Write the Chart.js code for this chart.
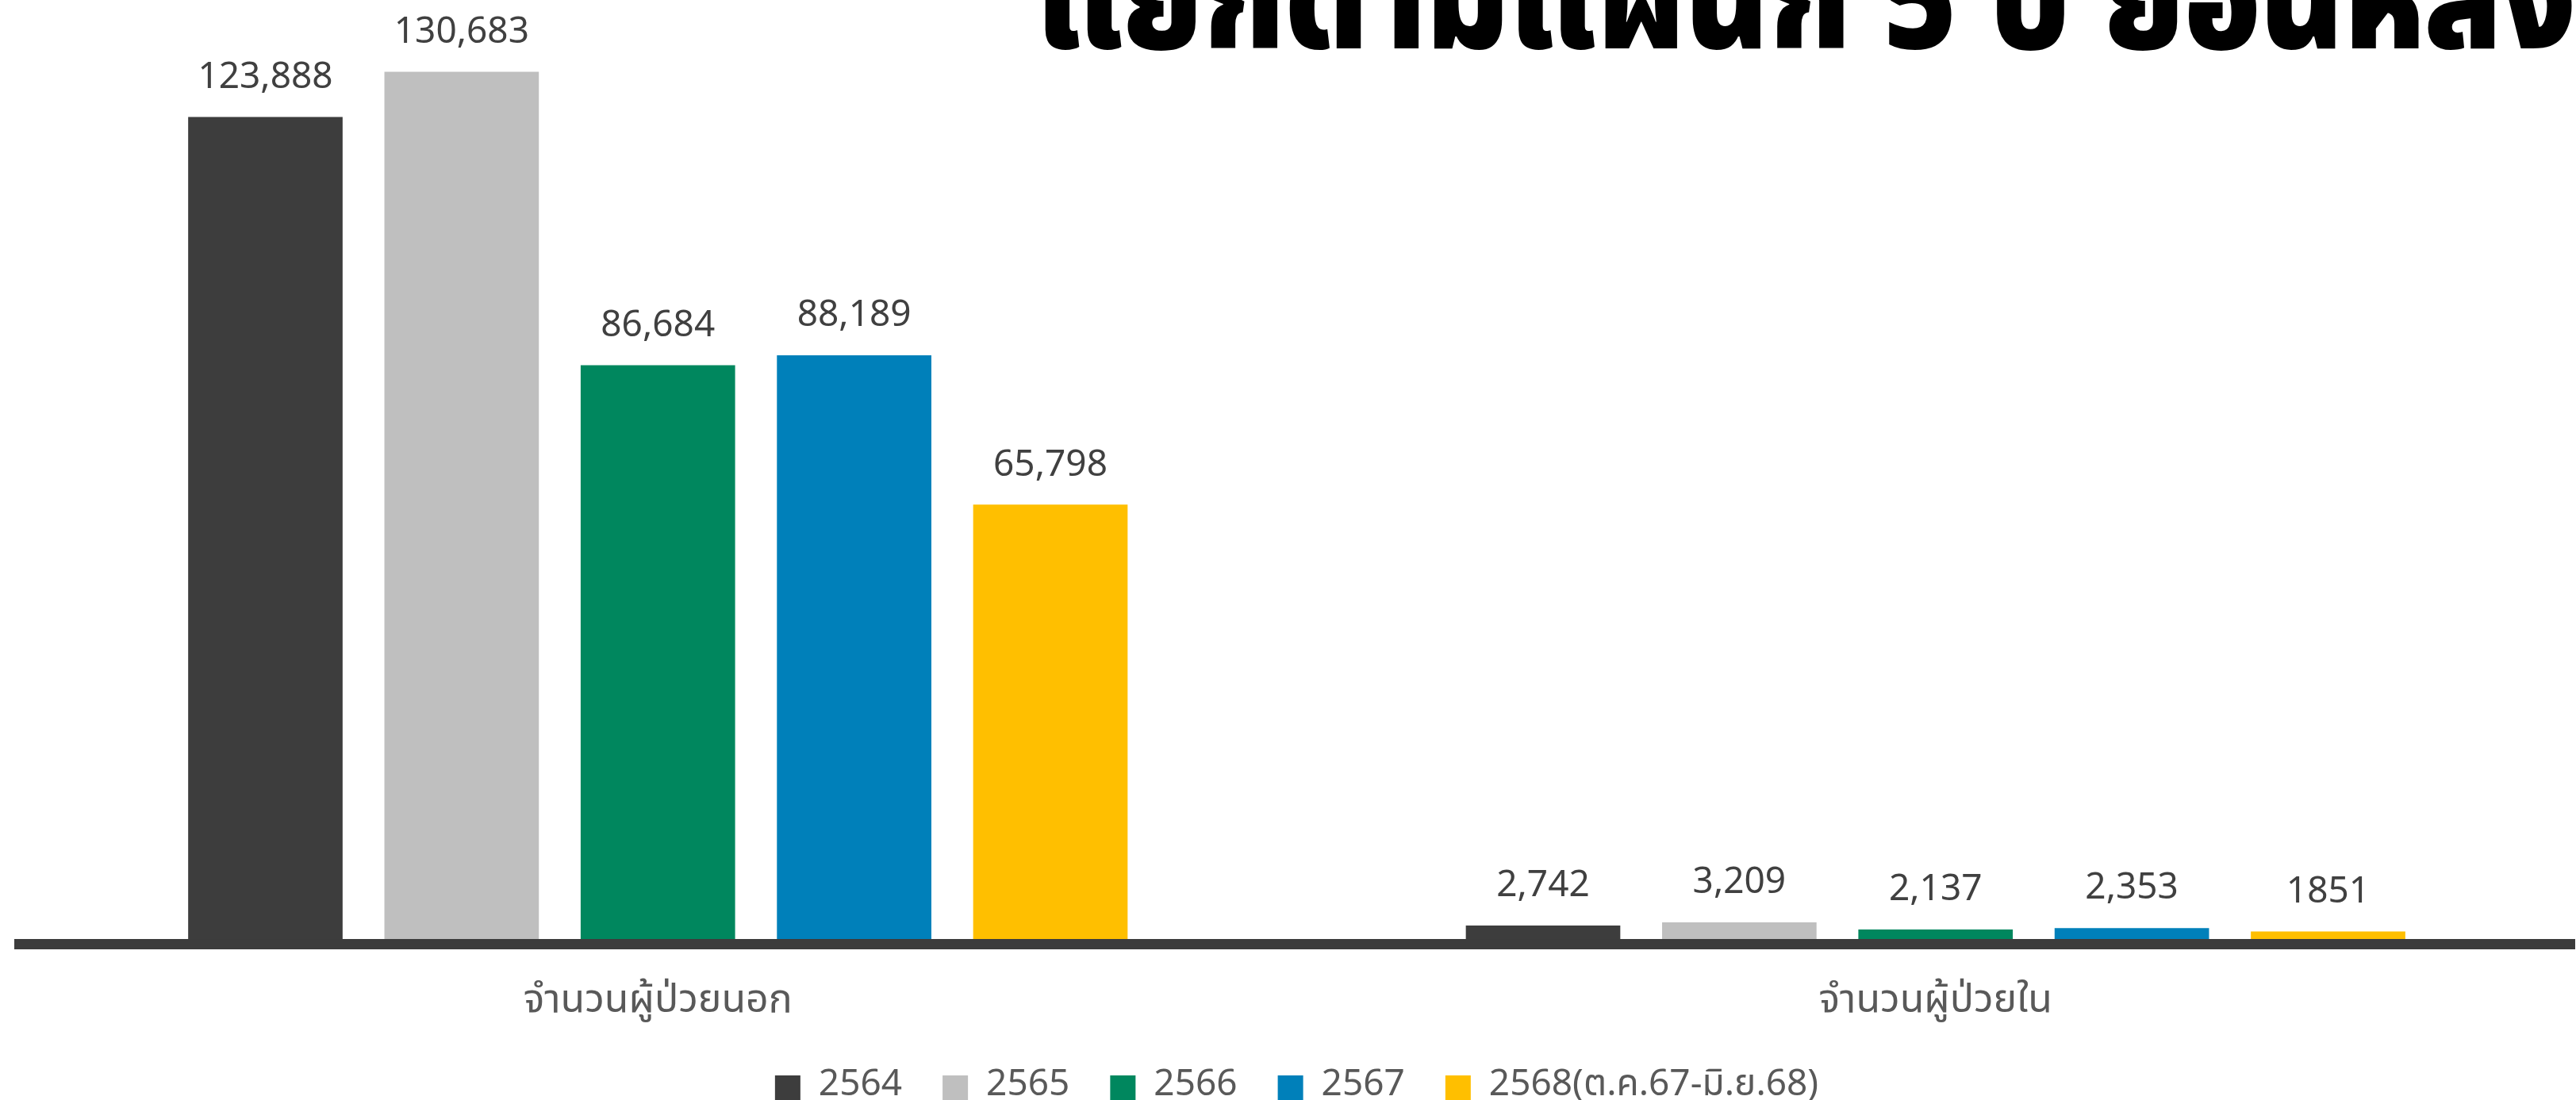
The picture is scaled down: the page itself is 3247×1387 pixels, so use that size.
<!DOCTYPE html>
<html>
<head>
<meta charset="utf-8">
<script src="https://cdn.jsdelivr.net/npm/chart.js@4.4.1/dist/chart.umd.min.js"></script>
<style>
  html, body { margin: 0; padding: 0; background: #fff; }
  #wrap { position: relative; width: 3247px; height: 1387px; overflow: hidden; }
</style>
</head>
<body>
<div id="wrap"><canvas id="deptChart" width="3247" height="1387"></canvas></div>
<script>
const categories = ["จำนวนผู้ป่วยนอก", "จำนวนผู้ป่วยใน"];
const years = ["2564", "2565", "2566", "2567", "2568(ต.ค.67-มิ.ย.68)"];
const values2564 = [123888, 2742];
const values2565 = [130683, 3209];
const values2566 = [86684, 2137];
const values2567 = [88189, 2353];
const values2568 = [65798, 1851];
// labels as printed on the original (the last one has no comma)
const shown2564 = ["123,888", "2,742"];
const shown2565 = ["130,683", "3,209"];
const shown2566 = ["86,684", "2,137"];
const shown2567 = ["88,189", "2,353"];
const shown2568 = ["65,798", "1851"];
const titleText = "แยกตามแผนก 5 ปี ย้อนหลัง";

const colors = ["#3d3d3d", "#bfbfbf", "#00875e", "#0080ba", "#ffbf00"];
const seriesValues = [values2564, values2565, values2566, values2567, values2568];
const seriesShown = [shown2564, shown2565, shown2566, shown2567, shown2568];
const FONT = "'Noto Sans Thai', 'Noto Sans', 'Open Sans', sans-serif";

const valueLabels = {
  id: "valueLabels",
  afterDatasetsDraw(chart) {
    const ctx = chart.ctx;
    ctx.save();
    ctx.font = "46px " + FONT;
    ctx.fillStyle = "#404040";
    ctx.textAlign = "center";
    ctx.textBaseline = "middle";
    chart.data.datasets.forEach((ds, i) => {
      chart.getDatasetMeta(i).data.forEach((bar, j) => {
        ctx.fillText(seriesShown[i][j], bar.x, bar.y - 46);
      });
    });
    ctx.restore();
  }
};

// the big title is cut by the top edge in the original
const cutTitle = {
  id: "cutTitle",
  afterDraw(chart) {
    const ctx = chart.ctx;
    ctx.save();
    ctx.font = "900 180px " + FONT;
    ctx.fillStyle = "#000";
    ctx.textAlign = "left";
    ctx.textBaseline = "alphabetic";
    ctx.translate(1306, 61);
    ctx.scale(0.88, 1);
    ctx.fillText(titleText, 0, 0);
    ctx.restore();
  }
};

new Chart(document.getElementById("deptChart"), {
  type: "bar",
  data: {
    labels: categories,
    datasets: years.map((y, i) => ({
      label: y,
      data: seriesValues[i],
      backgroundColor: colors[i],
      borderWidth: 0,
      categoryPercentage: 0.768,
      barPercentage: 0.787
    }))
  },
  options: {
    responsive: false,
    animation: false,
    layout: { padding: { top: 12, left: 24, right: 2, bottom: 0 } },
    plugins: {
      legend: {
        position: "bottom",
        maxHeight: 89,
        labels: {
          font: { size: 46, family: FONT },
          color: "#595959",
          boxWidth: 32,
          boxHeight: 32,
          padding: 51
        }
      },
      tooltip: { enabled: false }
    },
    scales: {
      y: { display: false, min: 0, max: 140000 },
      x: {
        grid: { display: false },
        border: { display: true, color: "#3c3c3c", width: 13, z: 1 },
        ticks: { color: "#595959", font: { size: 50, family: FONT }, padding: 38 },
        afterFit(scale) { scale.height -= 36; }
      }
    }
  },
  plugins: [valueLabels, cutTitle]
});
</script>
</body>
</html>
